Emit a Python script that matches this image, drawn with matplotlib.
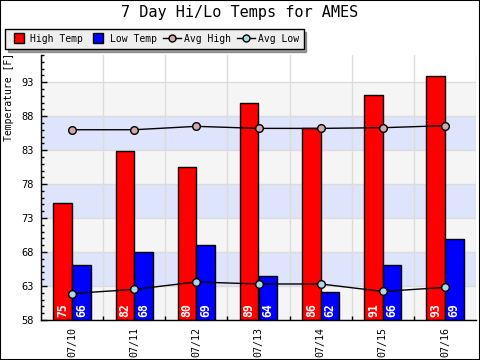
import matplotlib
matplotlib.use("Agg")
import matplotlib.pyplot as plt
from matplotlib.patches import Rectangle
from matplotlib.lines import Line2D
import numpy as np

# data
days = ["07/10", "07/11", "07/12", "07/13", "07/14", "07/15", "07/16"]
high_temp = [75.2, 82.9, 80.5, 89.9, 86.2, 91.1, 93.9]
low_temp = [66.1, 68.0, 69.1, 64.5, 62.1, 66.1, 69.9]
high_labels = ["75", "82", "80", "89", "86", "91", "93"]
low_labels = ["66", "68", "69", "64", "62", "66", "69"]
avg_high = [86.0, 86.0, 86.5, 86.2, 86.2, 86.3, 86.6]
avg_low = [61.9, 62.5, 63.6, 63.3, 63.3, 62.2, 62.8]
y_ticks = [58, 63, 68, 73, 78, 83, 88, 93]

mono = "DejaVu Sans Mono"
plt.rcParams["font.family"] = mono

W, H = 480, 360
fig = plt.figure(figsize=(4.8, 3.6), dpi=100)
fig.patch.set_facecolor("white")
fig.patches.append(Rectangle((0, 0), 1, 1, transform=fig.transFigure,
                             fill=False, edgecolor="black", linewidth=1.5))

ax = fig.add_axes([41 / W, 40 / H, 435 / W, 265 / H])
x = np.arange(len(days))
ymin, ymax = 58, 97
ax.set_xlim(-0.5, len(days) - 0.5)
ax.set_ylim(ymin, ymax)

# alternating background bands
for i, lo in enumerate(range(58, 93, 5)):
    col = "#f5f5f5" if i % 2 == 0 else "#dde4fb"
    ax.axhspan(lo, lo + 5, color=col, zorder=0, lw=0)

# grid
for yv in y_ticks:
    ax.axhline(yv, color="#dcdcdc", lw=1, zorder=0.5)
for xb in np.arange(0.5, len(days), 1.0):
    ax.axvline(xb, color="#dcdcdc", lw=1, zorder=0.5)

w = 0.3
ax.bar(x - w / 2, np.array(high_temp) - ymin, w, bottom=ymin, color="red",
       edgecolor="black", lw=1, zorder=2)
ax.bar(x + w / 2, np.array(low_temp) - ymin, w, bottom=ymin, color="blue",
       edgecolor="black", lw=1, zorder=2)

for i in range(len(days)):
    ax.text(x[i] - w / 2, ymin + 0.4, high_labels[i], rotation=90, color="white",
            fontsize=8.3, fontweight="bold", ha="center", va="bottom", zorder=3)
    ax.text(x[i] + w / 2, ymin + 0.4, low_labels[i], rotation=90, color="white",
            fontsize=8.3, fontweight="bold", ha="center", va="bottom", zorder=3)

ax.plot(x, avg_high, color="black", lw=1, marker="o", ms=5.5,
        mfc="#d2a8a8", mec="black", mew=1, zorder=4)
ax.plot(x, avg_low, color="black", lw=1, marker="o", ms=5.5,
        mfc="#add8e6", mec="black", mew=1, zorder=4)

# axes styling
for s in ["top", "right"]:
    ax.spines[s].set_visible(False)
ax.spines["left"].set_linewidth(1)
ax.spines["bottom"].set_linewidth(1)
ax.set_yticks(y_ticks)
ax.set_yticks(np.arange(58, 98, 1), minor=True)
ax.tick_params(axis="y", which="major", direction="in", length=4, width=1,
               labelsize=7.5, pad=5)
ax.tick_params(axis="y", which="minor", direction="in", length=2.5, width=1)
ax.set_xticks(x)
ax.set_xticklabels(days, rotation=90)
ax.set_xticks(np.arange(0.5, len(days) - 1, 1.0), minor=True)
ax.tick_params(axis="x", which="major", length=0, labelsize=7.2, pad=5)
ax.tick_params(axis="x", which="minor", direction="in", length=3, width=1)

fig.text(9 / W, 1 - 97 / H, "Temperature [F]", rotation=90, fontsize=7,
         ha="center", va="center")
fig.text(0.5, 1 - 13 / H, "7 Day Hi/Lo Temps for AMES", fontsize=11,
         ha="center", va="center")

handles = [Line2D([], [], ls="none", marker="s", ms=7.5, mfc="red", mec="black"),
           Line2D([], [], ls="none", marker="s", ms=7.5, mfc="blue", mec="black"),
           Line2D([], [], color="black", lw=1, marker="o", ms=5,
                  mfc="#d2a8a8", mec="black"),
           Line2D([], [], color="black", lw=1, marker="o", ms=5,
                  mfc="#add8e6", mec="black")]
leg = fig.legend(handles, ["High Temp", "Low Temp", "Avg High", "Avg Low"],
                 loc="upper left", bbox_to_anchor=(5 / W, 1 - 29 / H), ncol=4,
                 fontsize=7, frameon=True, fancybox=False, shadow=True,
                 handlelength=1.8, handleheight=1.0, handletextpad=0.3,
                 columnspacing=0.66, borderpad=0.5, borderaxespad=0)
leg.get_frame().set_facecolor("#eeeeee")
leg.get_frame().set_edgecolor("black")
leg.get_frame().set_alpha(1)

fig.savefig("out.png", dpi=100)
